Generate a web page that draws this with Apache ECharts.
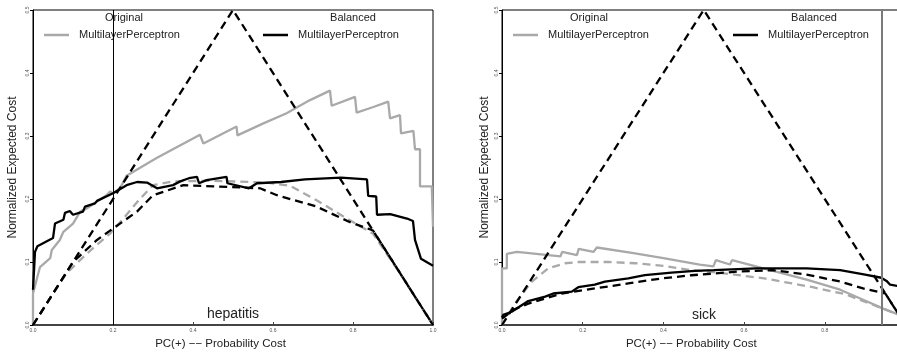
<!DOCTYPE html>
<html>
<head>
<meta charset="utf-8">
<script src="https://cdn.jsdelivr.net/npm/echarts@6/dist/echarts.min.js"></script>
<style>
  html, body { margin: 0; padding: 0; background: #fff; }
  #chart { width: 897px; height: 353px; }
</style>
</head>
<body>
<div id="chart"></div>
<script>
// values: [PC(+), normalized expected cost]
var xTicks = [0, 0.2, 0.4, 0.6, 0.8, 1.0];
var yTicks = [0, 0.1, 0.2, 0.3, 0.4, 0.5];
var panels = ['hepatitis', 'sick'];

// trivial classifiers (dashed triangle), same on both panels
var trivial = [[0, 0], [0.5, 0.5], [1, 0]];

// hepatitis
var hepOrigSolid = [[0,0],[0,0.05],[0.0175,0.092],[0.043,0.106],[0.047,0.119],[0.067,0.135],[0.076,0.148],[0.1,0.161],[0.118,0.18],[0.134,0.185],[0.16,0.196],[0.184,0.206],[0.1925,0.212],[0.2,0.209],[0.2175,0.217],[0.234,0.237],[0.309,0.265],[0.312,0.262],[0.4175,0.302],[0.426,0.288],[0.509,0.315],[0.511,0.301],[0.576,0.32],[0.634,0.336],[0.6925,0.357],[0.7425,0.372],[0.7467,0.348],[0.805,0.362],[0.809,0.337],[0.851,0.346],[0.888,0.3545],[0.8925,0.328],[0.9175,0.333],[0.92,0.304],[0.951,0.308],[0.955,0.279],[0.9675,0.279],[0.9675,0.22],[0.997,0.22],[1.0,0.156]];
var hepOrigDash = [[0,0],[0.05,0.05],[0.084,0.082],[0.1175,0.103],[0.15,0.122],[0.1925,0.145],[0.226,0.169],[0.26,0.195],[0.3,0.222],[0.35,0.228],[0.45,0.229],[0.584,0.226],[0.6425,0.221],[0.709,0.198],[0.79,0.167],[0.85,0.145],[0.9175,0.082],[1.0,0]];
var hepBalSolid = [[0,0.056],[0.005,0.116],[0.011,0.125],[0.05,0.138],[0.055,0.161],[0.076,0.167],[0.08,0.178],[0.092,0.181],[0.1,0.175],[0.125,0.18],[0.13,0.188],[0.155,0.193],[0.16,0.197],[0.2,0.209],[0.213,0.214],[0.234,0.222],[0.26,0.227],[0.285,0.226],[0.31,0.217],[0.35,0.222],[0.368,0.228],[0.39,0.233],[0.41,0.235],[0.415,0.225],[0.434,0.23],[0.484,0.235],[0.486,0.225],[0.54,0.217],[0.56,0.225],[0.62,0.227],[0.68,0.231],[0.77,0.234],[0.835,0.231],[0.838,0.205],[0.858,0.204],[0.86,0.175],[0.893,0.176],[0.935,0.169],[0.95,0.165],[0.955,0.135],[0.97,0.105],[1.0,0.094]];
var hepBalDash = [[0,0],[0.1,0.1],[0.16,0.135],[0.2175,0.161],[0.26,0.18],[0.3,0.206],[0.376,0.222],[0.5675,0.217],[0.61,0.206],[0.709,0.188],[0.79,0.164],[0.85,0.15],[1,0]];
var hepCut = 0.205;

// sick
var sickOrigSolid = [[0,0],[0,0.09],[0.012,0.09],[0.012,0.113],[0.037,0.116],[0.145,0.109],[0.149,0.116],[0.186,0.111],[0.19,0.121],[0.227,0.116],[0.235,0.123],[0.326,0.114],[0.4,0.106],[0.49,0.096],[0.524,0.093],[0.53,0.103],[0.565,0.096],[0.57,0.103],[0.648,0.09],[0.755,0.072],[0.838,0.056],[0.895,0.04],[0.945,0.026],[1.0,0.012]];
var sickOrigDash = [[0,0],[0.032,0.034],[0.074,0.069],[0.115,0.09],[0.156,0.098],[0.19,0.1],[0.263,0.1],[0.33,0.098],[0.4,0.094],[0.47,0.087],[0.55,0.082],[0.65,0.074],[0.77,0.06],[0.85,0.049],[0.94,0.027],[1,0.012]];
var sickBalSolid = [[0,0.012],[0.003,0.016],[0.024,0.021],[0.065,0.038],[0.107,0.045],[0.127,0.05],[0.173,0.053],[0.189,0.06],[0.23,0.064],[0.255,0.069],[0.313,0.074],[0.354,0.079],[0.42,0.083],[0.478,0.086],[0.525,0.087],[0.63,0.09],[0.755,0.09],[0.838,0.087],[0.9,0.08],[0.94,0.075],[0.953,0.07],[0.962,0.064],[1.0,0.06]];
var sickBalDash = [[0,0.01],[0.028,0.024],[0.065,0.034],[0.148,0.05],[0.23,0.058],[0.313,0.066],[0.396,0.074],[0.47,0.079],[0.59,0.085],[0.672,0.087],[0.755,0.08],[0.838,0.069],[0.895,0.058],[0.95,0.05],[1,0]];
var sickCut = 0.937;

var FONT = 'Liberation Sans, Arial, sans-serif';
var GRAY = '#a9a9a9';

var myChart = echarts.init(document.getElementById('chart'));

function line(name, idx, data, color, dashed) {
    return {
        name: name,
        type: 'line',
        xAxisIndex: idx,
        yAxisIndex: idx,
        data: data,
        symbol: 'none',
        animation: false,
        lineStyle: { color: color, width: 2.3, type: dashed ? [8, 5] : 'solid' },
        itemStyle: { color: color }
    };
}

function cutLine(idx, value, color, width) {
    return {
        type: 'line', xAxisIndex: idx, yAxisIndex: idx, data: [],
        markLine: {
            silent: true, symbol: 'none', animation: false,
            label: { show: false },
            lineStyle: { color: color, width: width, type: 'solid' },
            data: [{ xAxis: value }]
        }
    };
}

function xAxis(idx) {
    return {
        gridIndex: idx, type: 'value', min: 0, max: 1, interval: 0.2,
        name: 'PC(+) \u2212\u2212 Probability Cost',
        nameLocation: 'middle', nameGap: 12,
        nameTextStyle: { fontFamily: FONT, fontSize: 11.5, color: '#222', padding: [0, 25, 0, 0] },
        axisLine: { lineStyle: { color: '#444', width: 2 } },
        axisTick: { inside: true, length: 3, lineStyle: { color: '#444' } },
        axisLabel: { fontSize: 5, color: '#555', margin: 3, fontFamily: FONT,
            formatter: function (v) { return v.toFixed(1); } },
        splitLine: { show: false }
    };
}

function yAxis(idx, gap) {
    return {
        gridIndex: idx, type: 'value', min: 0, max: 0.5, interval: 0.1,
        name: 'Normalized Expected Cost',
        nameLocation: 'middle', nameGap: gap,
        nameTextStyle: { fontFamily: FONT, fontSize: 12, color: '#222' },
        axisLine: { lineStyle: { color: '#000', width: 1 } },
        axisTick: { length: 3, lineStyle: { color: '#000' } },
        axisLabel: { fontSize: 5, color: '#555', rotate: 90, margin: 3, fontFamily: FONT,
            formatter: function (v) { return v.toFixed(1); } },
        splitLine: { show: false }
    };
}

function legend(name, left) {
    return {
        data: [name], left: left, top: 28, padding: 0,
        icon: 'rect', itemWidth: 25, itemHeight: 2.5,
        selectedMode: false,
        formatter: function () { return 'MultilayerPerceptron'; },
        textStyle: { fontFamily: FONT, fontSize: 11, color: '#222', padding: [0, 0, 0, 5], lineHeight: 14 }
    };
}

function header(text, x) {
    return { text: text, left: x, top: 12, padding: 0, textAlign: 'center',
        textStyle: { fontFamily: FONT, fontSize: 11, fontWeight: 'normal', color: '#222' } };
}

option = {
    backgroundColor: '#fff',
    title: [
        header('Original', 124), header('Balanced', 353),
        header('Original', 589), header('Balanced', 814),
        { text: panels[0], left: 233, top: 307, padding: 0, textAlign: 'center',
          textStyle: { fontFamily: FONT, fontSize: 14, fontWeight: 'normal', color: '#222' } },
        { text: panels[1], left: 704, top: 308, padding: 0, textAlign: 'center',
          textStyle: { fontFamily: FONT, fontSize: 14, fontWeight: 'normal', color: '#222' } }
    ],
    legend: [
        legend('Original hepatitis', 44),
        legend('Balanced hepatitis', 263),
        legend('Original sick', 513),
        legend('Balanced sick', 733)
    ],
    grid: [
        { left: 33, top: 10, width: 400, height: 315, show: true, borderColor: '#000', borderWidth: 1, outerBoundsMode: 'none' },
        { left: 502, top: 10, width: 403.5, height: 315, show: true, borderColor: '#000', borderWidth: 1, outerBoundsMode: 'none' }
    ],
    xAxis: [xAxis(0), xAxis(1)],
    yAxis: [yAxis(0, 14), yAxis(1, 11)],
    series: [
        cutLine(0, hepCut, '#000', 1),
        line('Original hepatitis', 0, hepOrigSolid, GRAY, false),
        line('Original hepatitis dashed', 0, hepOrigDash, GRAY, true),
        line('Balanced hepatitis dashed', 0, hepBalDash, '#000', true),
        line('Trivial hepatitis', 0, trivial, '#000', true),
        line('Balanced hepatitis', 0, hepBalSolid, '#000', false),

        cutLine(1, sickCut, '#7a7a7a', 2),
        line('Original sick', 1, sickOrigSolid, GRAY, false),
        line('Original sick dashed', 1, sickOrigDash, GRAY, true),
        line('Balanced sick dashed', 1, sickBalDash, '#000', true),
        line('Trivial sick', 1, trivial, '#000', true),
        line('Balanced sick', 1, sickBalSolid, '#000', false)
    ]
};

myChart.setOption(option);
</script>
</body>
</html>
